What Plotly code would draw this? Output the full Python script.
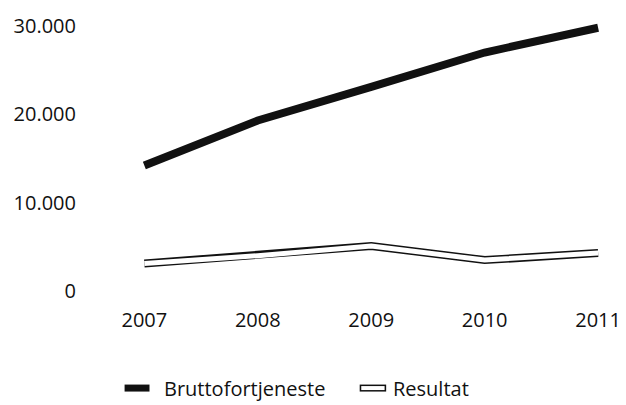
import plotly.graph_objects as go

years = [2007, 2008, 2009, 2010, 2011]
brutto = [14200, 19300, 23100, 27000, 29800]
resultat = [3100, 4000, 5100, 3500, 4300]
tick_vals = [0, 10000, 20000, 30000]
series_names = ["Bruttofortjeneste", "Resultat"]

FONT = "Open Sans"
INK = "#111111"

fig = go.Figure()
fig.add_trace(go.Scatter(x=years, y=brutto, mode="lines", name=series_names[0],
                         line=dict(color=INK, width=8), showlegend=False))
fig.add_trace(go.Scatter(x=years, y=resultat, mode="lines", name=series_names[1] + " outline",
                         line=dict(color=INK, width=8), showlegend=False, hoverinfo="skip"))
fig.add_trace(go.Scatter(x=years, y=resultat, mode="lines", name=series_names[1],
                         line=dict(color="white", width=5), showlegend=False))

# custom legend
legend_items = [(0.057, 0.105, 0.129, series_names[0], INK),
                (0.51, 0.561, 0.571, series_names[1], "white")]
LY = -0.309
for x0, x1, xt, label, fill in legend_items:
    fig.add_shape(type="line", xref="paper", yref="paper", x0=x0, x1=x1,
                  y0=LY, y1=LY, line=dict(color=INK, width=7), layer="above")
    if fill == "white":
        fig.add_shape(type="line", xref="paper", yref="paper", x0=x0 + 0.003, x1=x1 - 0.003,
                      y0=LY, y1=LY, line=dict(color="white", width=4), layer="above")
    fig.add_annotation(xref="paper", yref="paper", x=xt, y=LY, text=label,
                       showarrow=False, xanchor="left", yanchor="middle",
                       font=dict(family=FONT, size=20, color=INK))

fig.update_layout(
    width=626, height=405,
    margin=dict(l=95, r=5, t=15, b=105),
    paper_bgcolor="white", plot_bgcolor="white",
    separators=",.",
    font=dict(family=FONT, size=20, color=INK),
    xaxis=dict(range=[2006.565, 2011.14], tickvals=years, ticktext=[str(y) for y in years],
               showgrid=False, zeroline=False, showline=False, ticks="",
               ticklabelstandoff=6, ticklabeloverflow="allow"),
    yaxis=dict(range=[-1020, 31245], tickvals=tick_vals, tickformat=",",
               showgrid=False, zeroline=False, showline=False, ticks="",
               ticklabelstandoff=18),
)

fig.write_html("out.html", config={"displayModeBar": False},
               post_script="document.body.style.margin='0';")
